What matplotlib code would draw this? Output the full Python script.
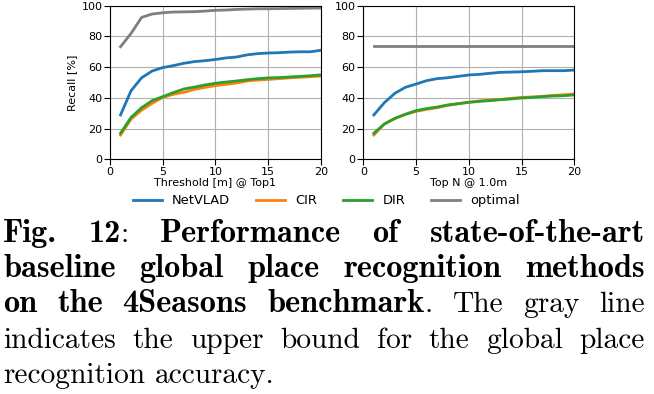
import matplotlib
matplotlib.use('Agg')
import matplotlib.pyplot as plt

# x values (threshold in m / top N)
x = list(range(1, 21))

# left panel: recall vs threshold @ top1
netvlad_thr = [28.9, 44.7, 53.1, 57.5, 59.7, 61.0, 62.5, 63.6, 64.2, 65.0,
               66.0, 66.6, 68.0, 68.8, 69.2, 69.4, 69.8, 70.0, 70.0, 71.0]
cir_thr = [15.8, 26.2, 32.0, 36.4, 40.3, 42.3, 43.6, 45.5, 46.8, 48.0,
           48.8, 49.7, 51.0, 51.6, 52.0, 52.5, 53.0, 53.4, 53.8, 54.2]
dir_thr = [17.0, 27.3, 33.6, 38.2, 40.8, 43.4, 45.8, 47.0, 48.4, 49.5,
           50.3, 51.0, 51.8, 52.5, 53.0, 53.2, 53.6, 54.0, 54.4, 55.0]
optimal_thr = [73.3, 82.0, 92.4, 94.6, 95.4, 95.9, 96.0, 96.1, 96.5, 97.0,
               97.2, 97.6, 97.8, 98.0, 98.0, 98.1, 98.2, 98.3, 98.4, 98.5]

# right panel: recall vs top N @ 1.0m
netvlad_top = [28.9, 36.9, 43.0, 46.9, 49.0, 51.2, 52.5, 53.1, 54.0, 54.9,
               55.3, 56.0, 56.6, 56.8, 57.0, 57.3, 57.7, 57.7, 57.7, 58.1]
cir_top = [15.8, 23.0, 26.5, 29.3, 31.2, 32.5, 33.6, 35.1, 36.2, 37.1,
           38.0, 38.6, 39.0, 39.7, 40.3, 40.6, 41.0, 41.6, 42.0, 42.5]
dir_top = [17.0, 23.0, 26.7, 29.3, 31.7, 33.0, 34.0, 35.4, 36.2, 37.1,
           37.7, 38.2, 38.8, 39.3, 39.9, 40.3, 40.8, 41.2, 41.4, 41.9]
optimal_top = [73.5] * 20

labels = ['NetVLAD', 'CIR', 'DIR', 'optimal']
colors = ['#1f77b4', '#ff7f0e', '#2ca02c', '#7f7f7f']

# caption: each line is a list of words, each word a list of (text, bold)
caption = [
    [[('Fig.', 1)], [('12', 1), (':', 0)], [('Performance', 1)], [('of', 1)], [('state-of-the-art', 1)]],
    [[('baseline', 1)], [('global', 1)], [('place', 1)], [('recognition', 1)], [('methods', 1)]],
    [[('on', 1)], [('the', 1)], [('4Seasons', 1)], [('benchmark', 1), ('.', 0)], [('The', 0)], [('gray', 0)], [('line', 0)]],
    [[('indicates', 0)], [('the', 0)], [('upper', 0)], [('bound', 0)], [('for', 0)], [('the', 0)], [('global', 0)], [('place', 0)]],
    [[('recognition', 0)], [('accuracy.', 0)]],
]


def plot_panel(ax, ys, xlabel):
    for i in range(len(ys)):
        ax.plot(x, ys[i], color=colors[i], lw=2, label=labels[i])
    ax.set_xlim(0, 20)
    ax.set_ylim(0, 100)
    ax.set_xticks([0, 5, 10, 15, 20])
    ax.set_yticks([0, 20, 40, 60, 80, 100])
    ax.grid(True, color='#b0b0b0', lw=0.8)
    ax.tick_params(labelsize=8, length=4, pad=1.5)
    ax.set_xlabel(xlabel, fontsize=8, labelpad=1)


def draw_caption(fig, x0, x1, baselines, size_r, size_b):
    renderer = fig.canvas.get_renderer()
    W, H = fig.get_size_inches() * fig.dpi
    def style(bold):
        return dict(fontsize=size_b if bold else size_r, family='cmb10' if bold else 'cmr10')
    for li, line in enumerate(caption):
        # measure words
        widths = []
        for word in line:
            w = 0
            for txt, bold in word:
                t = fig.text(0, 0, txt, **style(bold))
                w += t.get_window_extent(renderer).width
                t.remove()
            widths.append(w)
        if li == len(caption) - 1:
            gap = size_r * fig.dpi / 72 * 0.35
        else:
            gap = (x1 - x0 - sum(widths)) / (len(line) - 1)
        xp = x0
        for word, w in zip(line, widths):
            xs = xp
            for txt, bold in word:
                t = fig.text(xs / W, 1 - baselines[li] / H, txt, va='baseline', ha='left', **style(bold))
                xs += t.get_window_extent(renderer).width
            xp += w + gap


def main():
    fig = plt.figure(figsize=(6.54, 3.94), dpi=100)
    ax1 = fig.add_axes([0.1682, 0.5957, 0.3226, 0.3898])
    ax2 = fig.add_axes([0.5555, 0.5957, 0.3226, 0.3898])

    plot_panel(ax1, [netvlad_thr, cir_thr, dir_thr, optimal_thr], 'Threshold [m] @ Top1')
    plot_panel(ax2, [netvlad_top, cir_top, dir_top, optimal_top], 'Top N @ 1.0m')
    ax1.set_ylabel('Recall [%]', fontsize=8, labelpad=3)

    handles, lbls = ax1.get_legend_handles_labels()
    fig.legend(handles, lbls, loc='center', bbox_to_anchor=(0.4992, 0.49), ncol=4,
               frameon=False, fontsize=9.4, handlelength=2.2, columnspacing=2.0,
               handletextpad=0.8, borderaxespad=0, borderpad=0)

    draw_caption(fig, 3, 645, [241.5, 276.8, 312, 347.5, 383], 21.2, 23.3)

    fig.savefig('out.png', dpi=100)


if __name__ == '__main__':
    main()
